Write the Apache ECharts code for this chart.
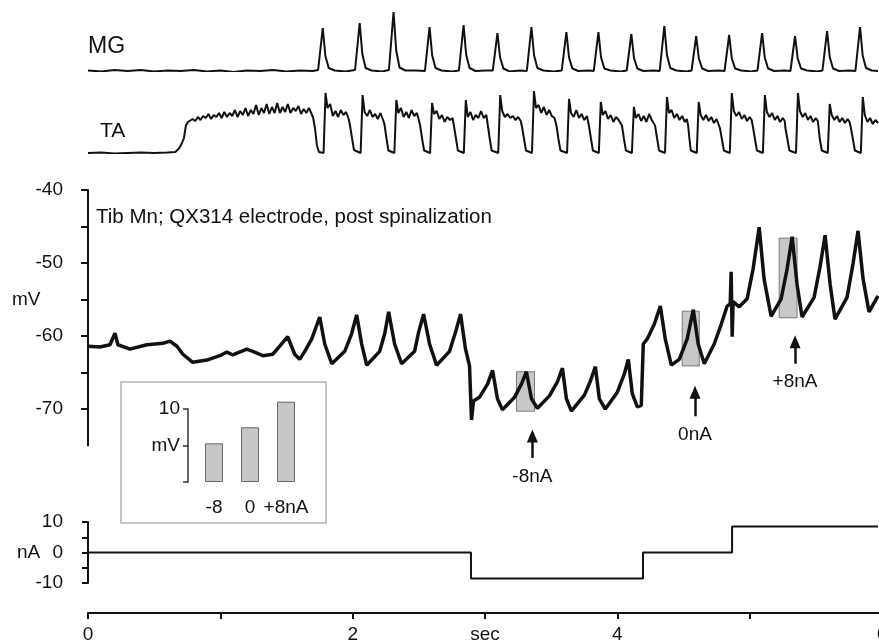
<!DOCTYPE html>
<html>
<head>
<meta charset="utf-8">
<script src="https://cdn.jsdelivr.net/npm/echarts@6/dist/echarts.min.js"></script>
<style>
  html, body { margin: 0; padding: 0; background: #fff; }
  #chart { width: 879px; height: 640px; }
</style>
</head>
<body>
<div id="chart"></div>
<script>
// 时间轴 (s)
const timeLabels = ["0", "", "2", "sec", "4", "", "6"];

// MG 肌电 (arbitrary units)
const mgTrace = [
  [0, 0.01], [0.1, -0.01], [0.2, 0.02], [0.3, 0], [0.4, 0.02], [0.5, -0.01], [0.6, 0.01], [0.7, 0],
  [0.8, 0.02], [0.9, -0.01], [1.0, 0.01], [1.1, -0.02], [1.2, 0.01], [1.3, 0], [1.4, 0.02], [1.5, -0.01],
  [1.6, 0.01], [1.7, 0],
  [1.739, 0.02], [1.774, 0.86], [1.794, 0.3], [1.819, 0.06], [1.864, 0.01], [1.944, -0.01],
  [2.018, 0.02], [2.053, 0.96], [2.073, 0.34], [2.098, 0.06], [2.143, 0.01], [2.223, -0.01],
  [2.274, 0.02], [2.309, 1.18], [2.329, 0.41], [2.354, 0.07], [2.399, 0.01], [2.479, 0.01],
  [2.546, 0], [2.581, 0.88], [2.601, 0.31], [2.626, 0.06], [2.671, 0.01], [2.751, -0.01],
  [2.803, 0.01], [2.838, 0.92], [2.858, 0.32], [2.883, 0.06], [2.928, 0], [3.008, 0.01],
  [3.059, 0.01], [3.094, 0.76], [3.114, 0.27], [3.139, 0.05], [3.184, -0.01], [3.264, 0.01],
  [3.316, 0], [3.351, 0.88], [3.371, 0.31], [3.396, 0.06], [3.441, 0.01], [3.521, -0.01],
  [3.58, 0.01], [3.615, 0.78], [3.635, 0.27], [3.66, 0.05], [3.705, 0], [3.785, 0.01],
  [3.822, 0], [3.857, 0.78], [3.877, 0.27], [3.902, 0.05], [3.947, 0.01], [4.027, -0.01],
  [4.071, 0.01], [4.106, 0.74], [4.126, 0.26], [4.151, 0.05], [4.196, 0], [4.276, 0.01],
  [4.32, 0], [4.355, 0.9], [4.375, 0.32], [4.4, 0.06], [4.445, 0.01], [4.525, -0.01],
  [4.561, 0.01], [4.596, 0.7], [4.616, 0.25], [4.641, 0.05], [4.686, 0], [4.766, 0.01],
  [4.81, 0], [4.845, 0.72], [4.865, 0.25], [4.89, 0.05], [4.935, 0.01], [5.015, -0.01],
  [5.059, 0.01], [5.094, 0.76], [5.114, 0.27], [5.139, 0.05], [5.184, 0], [5.264, 0.01],
  [5.308, 0], [5.343, 0.7], [5.363, 0.25], [5.388, 0.05], [5.433, 0.01], [5.513, -0.01],
  [5.55, 0.01], [5.585, 0.8], [5.605, 0.28], [5.63, 0.05], [5.675, 0], [5.755, 0.01],
  [5.799, 0], [5.834, 0.88], [5.854, 0.31], [5.879, 0.06], [5.924, 0.01], [5.97, 0]
];

// TA 肌电 (arbitrary units)
const taTrace = [
  [0, 0], [0.1, 0.01], [0.2, -0.01], [0.3, 0], [0.4, 0.01], [0.5, 0], [0.6, 0.01], [0.66, 0.02],
  [0.69, 0.1], [0.71, 0.2], [0.725, 0.3], [0.74, 0.55], [0.755, 0.62], [0.77, 0.58], [0.79, 0.68],
  [0.81, 0.64], [0.83, 0.72], [0.85, 0.66], [0.87, 0.74], [0.89, 0.7], [0.91, 0.78], [0.93, 0.68],
  [0.95, 0.76], [0.97, 0.72], [0.99, 0.8], [1.01, 0.7], [1.03, 0.82], [1.05, 0.72], [1.07, 0.8],
  [1.09, 0.74], [1.11, 0.86], [1.13, 0.72], [1.15, 0.84], [1.17, 0.76], [1.19, 0.9], [1.21, 0.74],
  [1.23, 0.86], [1.25, 0.78], [1.27, 0.96], [1.29, 0.76], [1.31, 0.9], [1.33, 0.8], [1.35, 0.98],
  [1.37, 0.78], [1.39, 0.92], [1.41, 0.8], [1.43, 1.0], [1.45, 0.8], [1.47, 0.92], [1.49, 0.82],
  [1.51, 0.98], [1.53, 0.8], [1.55, 0.9], [1.57, 0.84], [1.59, 0.94], [1.61, 0.78], [1.63, 0.88],
  [1.65, 0.8], [1.67, 0.9], [1.69, 0.78],
  [1.70, 0.72], [1.715, 0.5], [1.73, 0.15], [1.745, 0.02], [1.78, 0], [1.795, 1.2], [1.81, 0.9],
  [1.83, 0.98], [1.85, 0.74], [1.87, 0.84], [1.89, 0.72], [1.91, 0.86], [1.93, 0.76], [1.95, 0.82], [1.97, 0.68],
  [1.98, 0.55], [1.995, 0.3], [2.01, 0.06], [2.06, 0], [2.075, 1.16], [2.09, 0.82], [2.11, 0.74],
  [2.13, 0.86], [2.15, 0.72], [2.17, 0.78], [2.19, 0.68], [2.21, 0.8], [2.23, 0.66],
  [2.24, 0.58], [2.255, 0.3], [2.27, 0.05], [2.315, 0], [2.33, 1.06], [2.345, 0.8], [2.365, 0.9],
  [2.385, 0.72], [2.405, 0.82], [2.425, 0.7], [2.445, 0.86], [2.465, 0.74], [2.485, 0.8], [2.5, 0.66],
  [2.51, 0.55], [2.525, 0.28], [2.54, 0.05], [2.585, 0], [2.6, 1.0], [2.615, 0.78], [2.635, 0.84],
  [2.655, 0.68], [2.675, 0.76], [2.695, 0.62], [2.715, 0.72], [2.735, 0.66], [2.755, 0.7],
  [2.765, 0.55], [2.78, 0.3], [2.795, 0.05], [2.84, 0], [2.855, 1.06], [2.87, 0.72], [2.89, 0.82],
  [2.91, 0.66], [2.93, 0.76], [2.95, 0.7], [2.97, 0.84], [2.99, 0.7], [3.01, 0.76],
  [3.02, 0.58], [3.035, 0.3], [3.05, 0.05], [3.1, 0], [3.115, 1.16], [3.13, 0.84], [3.15, 0.72],
  [3.17, 0.78], [3.19, 0.7], [3.21, 0.74], [3.23, 0.66], [3.25, 0.72], [3.27, 0.64],
  [3.28, 0.52], [3.295, 0.28], [3.31, 0.05], [3.355, 0], [3.37, 1.24], [3.385, 0.9], [3.405, 0.96],
  [3.425, 0.8], [3.445, 0.92], [3.465, 0.76], [3.485, 0.86], [3.505, 0.74], [3.525, 0.7],
  [3.54, 0.55], [3.555, 0.28], [3.57, 0.05], [3.62, 0], [3.635, 1.08], [3.65, 0.8], [3.67, 0.72],
  [3.69, 0.86], [3.71, 0.7], [3.73, 0.78], [3.75, 0.66], [3.77, 0.74],
  [3.785, 0.55], [3.8, 0.3], [3.815, 0.05], [3.86, 0], [3.875, 1.02], [3.89, 0.76], [3.91, 0.84],
  [3.93, 0.68], [3.95, 0.76], [3.97, 0.62], [3.99, 0.72], [4.01, 0.66], [4.025, 0.7],
  [4.035, 0.55], [4.05, 0.28], [4.065, 0.05], [4.11, 0], [4.125, 0.92], [4.14, 0.7], [4.16, 0.78],
  [4.18, 0.64], [4.2, 0.74], [4.22, 0.62], [4.24, 0.78], [4.26, 0.66], [4.275, 0.7],
  [4.285, 0.55], [4.3, 0.3], [4.315, 0.05], [4.36, 0], [4.375, 1.12], [4.39, 0.8], [4.41, 0.86],
  [4.43, 0.7], [4.45, 0.78], [4.47, 0.66], [4.49, 0.74], [4.51, 0.62], [4.525, 0.68],
  [4.535, 0.55], [4.545, 0.28], [4.555, 0.05], [4.6, 0], [4.615, 1.02], [4.63, 0.76], [4.65, 0.66],
  [4.67, 0.76], [4.69, 0.64], [4.71, 0.72], [4.73, 0.6], [4.75, 0.68], [4.765, 0.64],
  [4.775, 0.5], [4.79, 0.28], [4.805, 0.05], [4.85, 0], [4.865, 1.2], [4.88, 0.84], [4.9, 0.74],
  [4.92, 0.82], [4.94, 0.68], [4.96, 0.76], [4.98, 0.64], [5.0, 0.72], [5.015, 0.66],
  [5.025, 0.52], [5.04, 0.28], [5.055, 0.05], [5.1, 0], [5.115, 1.16], [5.13, 0.82], [5.15, 0.72],
  [5.17, 0.8], [5.19, 0.66], [5.21, 0.74], [5.23, 0.62], [5.25, 0.7], [5.265, 0.64],
  [5.27, 0.5], [5.285, 0.28], [5.3, 0.05], [5.35, 0], [5.365, 1.2], [5.38, 0.84], [5.4, 0.72],
  [5.42, 0.8], [5.44, 0.66], [5.46, 0.74], [5.48, 0.62], [5.5, 0.7], [5.515, 0.64],
  [5.52, 0.52], [5.53, 0.28], [5.545, 0.05], [5.59, 0], [5.605, 0.98], [5.62, 0.76], [5.64, 0.66],
  [5.66, 0.74], [5.68, 0.62], [5.7, 0.7], [5.72, 0.6], [5.74, 0.68], [5.755, 0.62],
  [5.765, 0.5], [5.78, 0.28], [5.795, 0.05], [5.84, 0], [5.855, 1.12], [5.87, 0.76], [5.89, 0.62],
  [5.91, 0.7], [5.93, 0.58], [5.95, 0.66], [5.97, 0.6]
];

// 膜电位 (mV)
const vmTrace = [
  [0, -61.4], [0.09, -61.5], [0.166, -61.2], [0.204, -59.6], [0.226, -61.2], [0.317, -61.8], [0.445, -61.2],
  [0.566, -61.0], [0.619, -60.7], [0.672, -61.4], [0.717, -62.5], [0.792, -63.6], [0.898, -63.3],
  [0.996, -62.7], [1.049, -62.2], [1.094, -62.6], [1.2, -61.8], [1.245, -62.1], [1.321, -62.7],
  [1.396, -62.5], [1.449, -61.4], [1.509, -60.1], [1.562, -62.5], [1.6, -63.2], [1.638, -62.1],
  [1.691, -60.4], [1.751, -57.4], [1.789, -61.1], [1.842, -63.8], [1.94, -62.1], [1.992, -59.7],
  [2.03, -57.1], [2.068, -61.1], [2.106, -64.0], [2.204, -62.1], [2.242, -59.7], [2.272, -56.7],
  [2.317, -61.1], [2.37, -63.8], [2.468, -62.1], [2.498, -59.5], [2.536, -57.0], [2.581, -61.1],
  [2.634, -64.0], [2.732, -62.1], [2.777, -59.5], [2.815, -57.0], [2.853, -61.8], [2.883, -64.1],
  [2.898, -71.5], [2.913, -68.9], [2.958, -68.4], [3.019, -66.6], [3.057, -64.7], [3.094, -68.6],
  [3.132, -70.1], [3.223, -68.4], [3.275, -66.6], [3.313, -64.9], [3.351, -68.6], [3.396, -69.9],
  [3.487, -68.2], [3.547, -66.3], [3.585, -64.4], [3.615, -68.6], [3.653, -70.3], [3.751, -68.1],
  [3.796, -66.2], [3.834, -64.2], [3.864, -68.6], [3.909, -70.0], [4.0, -67.7], [4.053, -65.2],
  [4.083, -63.2], [4.113, -67.9], [4.151, -69.7], [4.181, -69.5], [4.196, -61.1], [4.226, -60.4],
  [4.279, -58.4], [4.325, -55.9], [4.362, -60.4], [4.408, -64.0], [4.468, -63.2], [4.528, -60.4],
  [4.574, -56.4], [4.611, -61.1], [4.657, -63.8], [4.732, -61.1], [4.785, -58.4], [4.83, -55.9],
  [4.853, -55.6], [4.86, -51.2], [4.868, -60.1], [4.875, -55.3], [4.921, -56.0], [4.981, -54.9],
  [5.026, -50.8], [5.072, -45.1], [5.109, -52.2], [5.162, -57.3], [5.238, -54.9], [5.283, -50.8],
  [5.321, -46.4], [5.358, -52.9], [5.396, -57.4], [5.487, -54.7], [5.532, -50.5], [5.57, -46.2],
  [5.608, -52.9], [5.645, -57.7], [5.736, -54.7], [5.781, -50.1], [5.819, -45.6], [5.857, -52.2],
  [5.902, -56.7], [5.97, -54.5]
];

// 电流 (nA)
const currentTrace = [
  [0, 0], [2.894, -8.5], [4.194, 0], [4.867, 8.5], [5.97, 8.5]
];

// 灰色方框: PSP 幅值
const shadeStart = [3.238, 4.49, 5.223];
const shadeEnd = [3.374, 4.619, 5.358];
const shadeTop = [-64.9, -56.6, -46.6];
const shadeBottom = [-70.3, -64.1, -57.5];

// 箭头 (mV 坐标)
const arrowT = [3.358, 4.587, 5.343];
const arrowBase = [-76.7, -71.0, -63.8];
const arrowHead = [-73.7, -67.7, -60.8];
const arrowNames = ["-8nA", "0nA", "+8nA"];

// 小图
const insetCats = ["-8", "0", "+8nA"];
const insetVals = [5.3, 7.5, 11.0];

const FONT = "'Liberation Sans', Arial, sans-serif";
const INK = "#111";

let chart = echarts.init(document.getElementById("chart"));

const hiddenX = (gi) => ({ gridIndex: gi, type: "value", min: 0, max: 6, show: false });
// 固定位置, 不让 v6 自动收缩 grid
const trackGrid = (top, height) => ({ left: 88, right: -3, top, height, outerBoundsMode: "none", containLabel: false });

chart.setOption({
  animation: false,
  textStyle: { fontFamily: FONT, color: INK },
  grid: [
    trackGrid(11, 60),
    trackGrid(88, 65),
    trackGrid(190, 255.5),
    trackGrid(522, 61),
    trackGrid(600, 13),
    { left: 196, top: 409, width: 108, height: 73, outerBoundsMode: "none", containLabel: false },
    // 箭头用的透明叠加层, 与 mV 同比例但向下延伸
    trackGrid(190, 277.4)
  ],
  xAxis: [
    hiddenX(0),
    hiddenX(1),
    hiddenX(2),
    hiddenX(3),
    {
      gridIndex: 4, type: "value", min: 0, max: 6, interval: 1,
      axisLine: { lineStyle: { color: INK, width: 2 } },
      axisTick: { length: 6, lineStyle: { color: INK, width: 2 } },
      axisLabel: {
        margin: 12, fontSize: 19, color: INK,
        formatter: (v) => timeLabels[Math.round(v)] || ""
      },
      splitLine: { show: false }
    },
    {
      gridIndex: 5, type: "category", data: insetCats,
      axisLine: { show: false }, axisTick: { show: false },
      axisLabel: { interval: 0, margin: 16, fontSize: 19, color: INK }
    },
    hiddenX(6)
  ],
  yAxis: [
    { gridIndex: 0, type: "value", min: 0, max: 1.2, show: false },
    { gridIndex: 1, type: "value", min: 0, max: 1.3, show: false },
    {
      gridIndex: 2, type: "value", min: -75, max: -40, interval: 5, offset: 11,
      axisLine: { show: true, lineStyle: { color: INK, width: 2 } },
      axisTick: { show: true, length: 7, customValues: [-70, -65, -60, -55, -50, -45, -40], lineStyle: { color: INK, width: 2 } },
      axisLabel: {
        margin: 14, fontSize: 19, color: INK,
        formatter: (v) => (v % 10 === 0 ? String(v) : "")
      },
      splitLine: { show: false }
    },
    {
      gridIndex: 3, type: "value", min: -10, max: 10, interval: 5, offset: 11,
      axisLine: { show: true, lineStyle: { color: INK, width: 2 } },
      axisTick: { show: true, length: 6, lineStyle: { color: INK, width: 2 } },
      axisLabel: {
        margin: 14, fontSize: 19, color: INK,
        formatter: (v) => (v % 10 === 0 ? String(v) : "")
      },
      splitLine: { show: false }
    },
    { gridIndex: 4, type: "value", show: false },
    {
      gridIndex: 5, type: "value", min: 0, max: 10, interval: 5, offset: 8,
      axisLine: { show: true, lineStyle: { color: "#333", width: 1.5 } },
      axisTick: { show: true, length: 5, lineStyle: { color: "#333", width: 1.5 } },
      axisLabel: {
        margin: 8, fontSize: 19, color: INK,
        formatter: (v) => (v === 10 ? "10" : v === 5 ? "mV" : "")
      },
      splitLine: { show: false }
    },
    { gridIndex: 6, type: "value", min: -78, max: -40, show: false }
  ],
  graphic: [
    { type: "text", x: 88, y: 47, style: { text: "MG", font: "23px " + FONT, fill: INK, verticalAlign: "middle" } },
    { type: "text", x: 100, y: 131, style: { text: "TA", font: "21px " + FONT, fill: INK, verticalAlign: "middle" } },
    { type: "text", x: 96, y: 217, style: { text: "Tib Mn; QX314 electrode, post spinalization", font: "20.5px " + FONT, fill: INK, verticalAlign: "middle" } },
    { type: "text", x: 12, y: 300, style: { text: "mV", font: "19px " + FONT, fill: INK, verticalAlign: "middle" } },
    { type: "text", x: 17, y: 553, style: { text: "nA", font: "19px " + FONT, fill: INK, verticalAlign: "middle" } },
    // inset 边框
    { type: "rect", shape: { x: 121, y: 382, width: 205, height: 141 }, style: { fill: "transparent", stroke: "#b4b4b4", lineWidth: 1.5 } }
  ],
  series: [
    {
      name: "MG", type: "line", xAxisIndex: 0, yAxisIndex: 0, data: mgTrace,
      showSymbol: false, lineStyle: { color: INK, width: 2 }
    },
    {
      name: "TA", type: "line", xAxisIndex: 1, yAxisIndex: 1, data: taTrace,
      showSymbol: false, lineStyle: { color: INK, width: 2 }
    },
    {
      name: "Vm", type: "line", xAxisIndex: 2, yAxisIndex: 2, data: vmTrace,
      showSymbol: false, clip: false, lineStyle: { color: INK, width: 3.5 },
      markArea: {
        silent: true,
        itemStyle: { color: "#c8c8c8", borderColor: "#7a7a7a", borderWidth: 1 },
        data: shadeStart.map((t, i) => [
          { coord: [t, shadeTop[i]] },
          { coord: [shadeEnd[i], shadeBottom[i]] }
        ])
      }
    },
    {
      name: "arrows", type: "line", xAxisIndex: 6, yAxisIndex: 6, data: [],
      markLine: {
        silent: true,
        symbol: ["none", "triangle"],
        symbolSize: [11, 13],
        lineStyle: { color: INK, width: 2.5, type: "solid" },
        label: { show: true, position: "start", distance: 9, fontSize: 19, color: INK, formatter: "{b}" },
        data: arrowT.map((t, i) => [
          { name: arrowNames[i], coord: [t, arrowBase[i]] },
          { coord: [t, arrowHead[i]] }
        ])
      }
    },
    {
      name: "I", type: "line", xAxisIndex: 3, yAxisIndex: 3, data: currentTrace,
      step: "end", showSymbol: false, lineStyle: { color: INK, width: 2 }
    },
    {
      name: "inset", type: "bar", xAxisIndex: 5, yAxisIndex: 5, data: insetVals,
      barWidth: 18, clip: false,
      itemStyle: { color: "#c6c6c6", borderColor: "#666", borderWidth: 1 }
    }
  ]
});
</script>
</body>
</html>
